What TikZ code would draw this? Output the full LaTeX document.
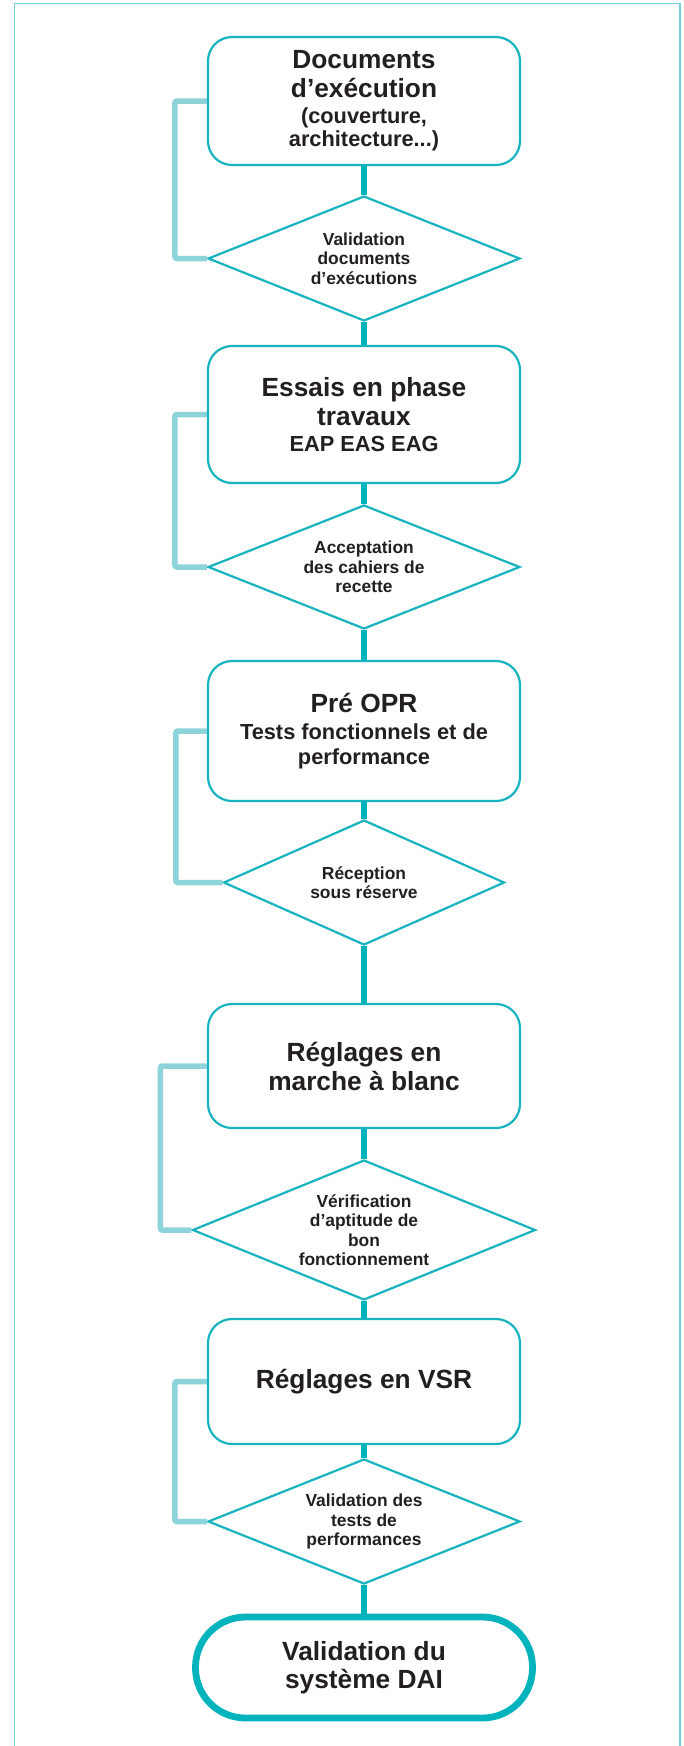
\documentclass[tikz,border=0pt]{standalone}
\usepackage{fontspec}
\setmainfont{Liberation Sans}
\usetikzlibrary{shapes.geometric}

\definecolor{boxline}{HTML}{17B3BE}
\definecolor{flowline}{HTML}{00B3BD}
\definecolor{backline}{HTML}{8DD4DA}
\definecolor{framecol}{HTML}{6FD0D8}
\definecolor{ink}{HTML}{231F20}

\tikzset{
  stepbox/.style={draw=boxline, line width=2.2pt, fill=white, rounded corners=24pt,
    minimum width=312pt, inner sep=0pt, align=center, text=ink,
    font=\bfseries\fontsize{26.3}{29}\selectfont},
  decision/.style={draw=boxline, line width=2.2pt, fill=white, diamond, inner sep=0pt},
  dtext/.style={align=center, text=ink, inner sep=0pt,
    font=\bfseries\fontsize{17.4}{19.5}\selectfont},
  terminal/.style={draw=flowline, line width=6.8pt, fill=white, rounded corners=50pt,
    minimum width=337pt, minimum height=101pt, inner sep=0pt, align=center, text=ink,
    font=\bfseries\fontsize{26.3}{28}\selectfont},
  flow/.style={draw=flowline, line width=6pt},
  loopback/.style={draw=backline, line width=5.5pt, rounded corners=2pt},
}
\newcommand{\subline}{\fontsize{21.8}{24}\selectfont}

\begin{document}
\begin{tikzpicture}[x=1pt, y=-1pt]
  \useasboundingbox (0,0) rectangle (684,1746);

  % open frame (no bottom edge)
  \draw[framecol, line width=1.5pt] (14.5,1746) -- (14.5,3.5) -- (680,3.5) -- (680,1746);

  % steps
  \node[stepbox, minimum height=128pt] (b1) at (364,101)
    {Documents\\d’exécution\\[-3pt]{\subline (couverture,}\\[-6pt]{\subline architecture...)}};
  \node[decision, minimum width=312pt, minimum height=125pt] (d1) at (364,258.5) {};
  \node[dtext] (t1) at (d1) {Validation\\documents\\d’exécutions};

  \node[stepbox, minimum height=137pt] (b2) at (364,414.5)
    {Essais en phase\\travaux\\[-3pt]{\subline EAP EAS EAG}};
  \node[decision, minimum width=312pt, minimum height=124pt] (d2) at (364,567) {};
  \node[dtext] (t2) at (d2) {Acceptation\\des cahiers de\\recette};

  \node[stepbox, minimum height=140pt] (b3) at (364,731)
    {Pré OPR\\[-2pt]{\subline Tests fonctionnels et de}\\[-4.5pt]{\subline performance}};
  \node[decision, minimum width=281pt, minimum height=125pt] (d3) at (364,882.5) {};
  \node[dtext] (t3) at (d3) {Réception\\sous réserve};

  \node[stepbox, minimum height=124pt] (b4) at (364,1066)
    {Réglages en\\marche à blanc};
  \node[decision, minimum width=343pt, minimum height=140pt] (d4) at (364,1230) {};
  \node[dtext] (t4) at (d4) {Vérification\\d’aptitude de\\bon\\fonctionnement};

  \node[stepbox, minimum height=125pt] (b5) at (364,1381.5)
    {Réglages en VSR};
  \node[decision, minimum width=312pt, minimum height=125pt] (d5) at (364,1521.5) {};
  \node[dtext] (t5) at (d5) {Validation des\\tests de\\performances};

  \node[terminal] (end) at (364,1667.5) {Validation du\\système DAI};

  % main flow
  \draw[flow] (b1.south) -- (d1.north);
  \draw[flow] (d1.south) -- (b2.north);
  \draw[flow] (b2.south) -- (d2.north);
  \draw[flow] (d2.south) -- (b3.north);
  \draw[flow] (b3.south) -- (d3.north);
  \draw[flow] (d3.south) -- (b4.north);
  \draw[flow] (b4.south) -- (d4.north);
  \draw[flow] (d4.south) -- (b5.north);
  \draw[flow] (b5.south) -- (d5.north);
  \draw[flow] (d5.south) -- (end.north);

  % return loops from each decision back to its step
  \draw[loopback] (b1.west) -- ++(-32,0) |- (d1.west);
  \draw[loopback] (b2.west) -- ++(-32,0) |- (d2.west);
  \draw[loopback] (b3.west) -- ++(-31,0) |- (d3.west);
  \draw[loopback] (b4.west) -- ++(-46.5,0) |- (d4.west);
  \draw[loopback] (b5.west) -- ++(-32,0) |- (d5.west);
\end{tikzpicture}
\end{document}
